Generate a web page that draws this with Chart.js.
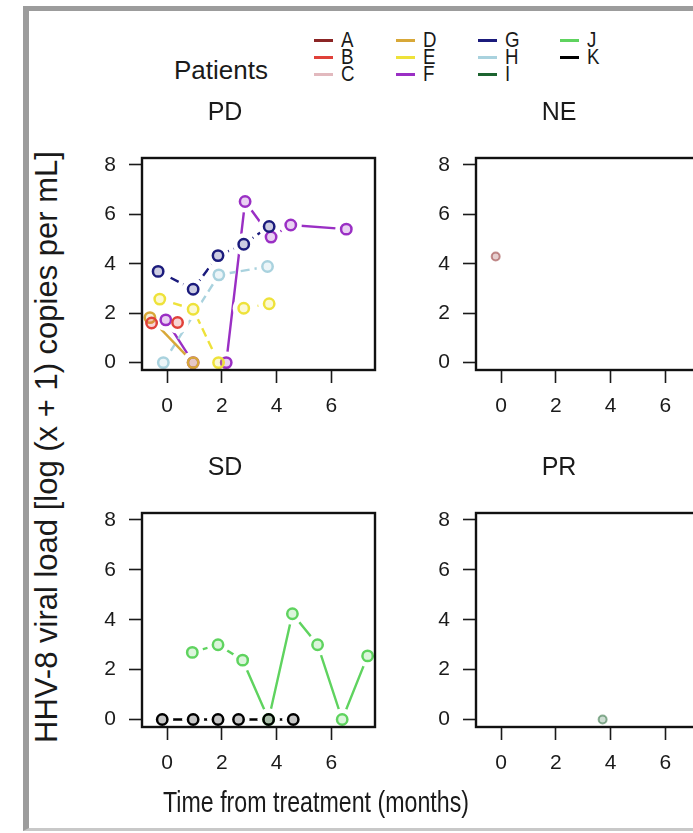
<!DOCTYPE html>
<html>
<head>
<meta charset="utf-8">
<script src="https://cdn.jsdelivr.net/npm/chart.js@4.4.1/dist/chart.umd.min.js"></script>
<style>
  html, body { margin: 0; padding: 0; background: #fff; }
  #fig { position: relative; width: 693px; height: 833px; overflow: hidden; background: #fff;
         font-family: "Liberation Sans", Arial, sans-serif; color: #1a1a1a; }
  #frame { position: absolute; left: 23px; top: 6px; width: 740px; height: 825px; box-sizing: border-box;
           border-left: 6px solid #9c9c9c; border-top: 5px solid #9c9c9c; border-bottom: 3px solid #c8c8c8; }
  .panel { position: absolute; }
  .lg { position: absolute; height: 24px; display: flex; align-items: center; font-size: 22px; line-height: 24px; }
  .sw { display: inline-block; width: 19px; height: 3px; margin-right: 8px; }
  .lt { display: inline-block; transform: scaleX(0.85); transform-origin: left center; }
  #patients { position: absolute; left: 174px; top: 54px; font-size: 26px; line-height: 32px; }
  #ylab { position: absolute; left: 47px; top: 447px; transform: translate(-50%, -50%) rotate(-90deg);
          white-space: nowrap; font-size: 31px; }
  #xlab { position: absolute; left: 316px; top: 802px; transform: translate(-50%, -50%) scaleX(0.8);
          white-space: nowrap; font-size: 29px; }
</style>
</head>
<body>
<div id="fig">
  <div id="frame"></div>
  <div id="patients">Patients</div>
  <div id="legend"></div>
  <canvas id="cPD" class="panel"></canvas>
  <canvas id="cNE" class="panel"></canvas>
  <canvas id="cSD" class="panel"></canvas>
  <canvas id="cPR" class="panel"></canvas>
  <div id="ylab">HHV-8 viral load [log (x + 1) copies per mL]</div>
  <div id="xlab">Time from treatment (months)</div>
</div>
<script>
// pacientes e cores
const patients = ['A', 'B', 'C', 'D', 'E', 'F', 'G', 'H', 'I', 'J', 'K'];
const patientColors = ['#8b2525', '#e0413a', '#e2b9be', '#d8a838', '#eee23a', '#9a2fc4',
                       '#1b1b7c', '#a9d2de', '#1d6430', '#5fd35f', '#000000'];
const dashed = ['E', 'G', 'H'];

// eixos (iguais nos 4 paineis)
const xTicks = [0, 2, 4, 6];
const yTicks = [0, 2, 4, 6, 8];
const xRange = [-0.92, 7.6];
const yRange = [-0.3, 8.28];

// PD
const pdB_x = [-0.57, 0.38],                         pdB_y = [1.60, 1.62];
const pdD_x = [-0.63, 0.95],                         pdD_y = [1.82, 0];
const pdE_x = [-0.27, 0.95, 1.88, null, 2.8, 3.73],  pdE_y = [2.57, 2.16, 0, null, 2.2, 2.38];
const pdF_x = [-0.05, 0.95, null, 2.16, 2.85, 3.80, 4.52, 6.55], pdF_y = [1.73, 0, null, 0, 6.52, 5.08, 5.57, 5.40];
const pdG_x = [-0.33, 0.95, 1.86, 2.8, 3.73],        pdG_y = [3.69, 2.97, 4.33, 4.79, 5.51];
const pdH_x = [-0.14, 1.89, 3.67],                   pdH_y = [0, 3.55, 3.89];
// NE
const neA_x = [-0.2], neA_y = [4.29];
// SD
const sdJ_x = [0.92, 1.86, 2.76, 3.71, 4.58, 5.5, 6.4, 7.33], sdJ_y = [2.69, 3.0, 2.38, 0, 4.24, 3.0, 0, 2.55];
const sdK_x = [-0.18, 0.95, 1.86, 2.61, 3.71, 4.61],         sdK_y = [0, 0, 0, 0, 0, 0];
// PR
const prI_x = [3.71], prI_y = [0];

const panels = [
  { id: 'cPD', title: 'PD', left: 142, top: 158, h: 212,
    series: [['B', pdB_x, pdB_y], ['D', pdD_x, pdD_y], ['E', pdE_x, pdE_y], ['H', pdH_x, pdH_y],
             ['G', pdG_x, pdG_y], ['F', pdF_x, pdF_y]] },
  { id: 'cNE', title: 'NE', left: 476, top: 158, h: 212, series: [['A', neA_x, neA_y]] },
  { id: 'cSD', title: 'SD', left: 142, top: 513, h: 214, series: [['K', sdK_x, sdK_y], ['J', sdJ_x, sdJ_y]] },
  { id: 'cPR', title: 'PR', left: 476, top: 513, h: 214, series: [['I', prI_x, prI_y]] }
];

const AXIS_W = 70, AXIS_H = 60, TITLE_H = 60, BOX_W = 236, PAD_R = 8;
const FONT = '"Liberation Sans", Arial, sans-serif';

function rgba(hex, a) {
  const n = parseInt(hex.slice(1), 16);
  return `rgba(${n >> 16},${(n >> 8) & 255},${n & 255},${a})`;
}

// legenda em HTML
const legendEl = document.getElementById('legend');
patients.forEach((p, i) => {
  const col = Math.floor(i / 3), row = i % 3;
  const d = document.createElement('div');
  d.className = 'lg';
  d.style.left = (314 + col * 82) + 'px';
  d.style.top = (40 + row * 17 - 12) + 'px';
  d.innerHTML = `<span class="sw" style="background:${patientColors[i]}"></span><span class="lt">${p}</span>`;
  legendEl.appendChild(d);
});

const boxPlugin = {
  id: 'box',
  afterDatasetsDraw(chart) {
    const a = chart.chartArea, c = chart.ctx;
    c.save();
    c.strokeStyle = '#111';
    c.lineWidth = 2.4;
    c.strokeRect(a.left, a.top, a.right - a.left, a.bottom - a.top);
    c.restore();
  }
};

function axis(range, ticks, isX) {
  return {
    type: 'linear',
    min: range[0],
    max: range[1],
    afterBuildTicks: s => { s.ticks = ticks.map(v => ({ value: v })); },
    afterFit: s => { if (isX) s.height = AXIS_H; else s.width = AXIS_W; },
    grid: { drawOnChartArea: false, drawTicks: true, tickLength: 13, tickWidth: 1.6, tickColor: '#1a1a1a' },
    border: { display: false },
    ticks: { font: { family: FONT, size: 21 }, color: '#1a1a1a', padding: isX ? 11 : 13,
             maxRotation: 0, autoSkip: false }
  };
}

panels.forEach(panel => {
  const cv = document.getElementById(panel.id);
  const w = AXIS_W + BOX_W + PAD_R, h = TITLE_H + panel.h + AXIS_H;
  cv.width = w; cv.height = h;
  cv.style.width = w + 'px'; cv.style.height = h + 'px';
  cv.style.left = (panel.left - AXIS_W) + 'px';
  cv.style.top = (panel.top - TITLE_H) + 'px';

  const lines = [], halos = [], marks = [];
  panel.series.forEach(([pid, xs, ys]) => {
    const col = patientColors[patients.indexOf(pid)];
    const pts = xs.map((x, i) => ({ x: x, y: ys[i] }));
    const single = xs.length === 1;
    const stroke = single ? rgba(col, 0.5) : col;
    lines.push({ label: pid, data: pts, showLine: true, spanGaps: false, borderColor: col, borderWidth: 2.4,
                 borderDash: dashed.includes(pid) ? [9, 5] : [], pointRadius: 0, order: 3 });
    halos.push({ data: pts.filter(p => p.x !== null), showLine: false, pointRadius: 11, pointBorderWidth: 0,
                 pointBackgroundColor: '#fff', pointBorderColor: '#fff', order: 2, clip: 0 });
    marks.push({ data: pts.filter(p => p.x !== null), showLine: false, pointRadius: single ? 4 : 5.2,
                 pointBorderWidth: single ? 2 : 2.5, pointBorderColor: stroke,
                 pointBackgroundColor: rgba(col, 0.22), order: 1 });
  });

  new Chart(cv, {
    type: 'scatter',
    data: { datasets: [...lines, ...halos, ...marks] },
    options: {
      responsive: false,
      animation: false,
      events: [],
      layout: { padding: { left: 0, right: PAD_R, top: 0, bottom: 0 } },
      plugins: {
        legend: { display: false },
        tooltip: { enabled: false },
        title: { display: true, text: panel.title, color: '#1a1a1a',
                 font: { family: FONT, size: 25, weight: 'normal', lineHeight: '30px' },
                 padding: { top: 0, bottom: 30 } }
      },
      scales: { x: axis(xRange, xTicks, true), y: axis(yRange, yTicks, false) }
    },
    plugins: [boxPlugin]
  });
});
</script>
</body>
</html>
